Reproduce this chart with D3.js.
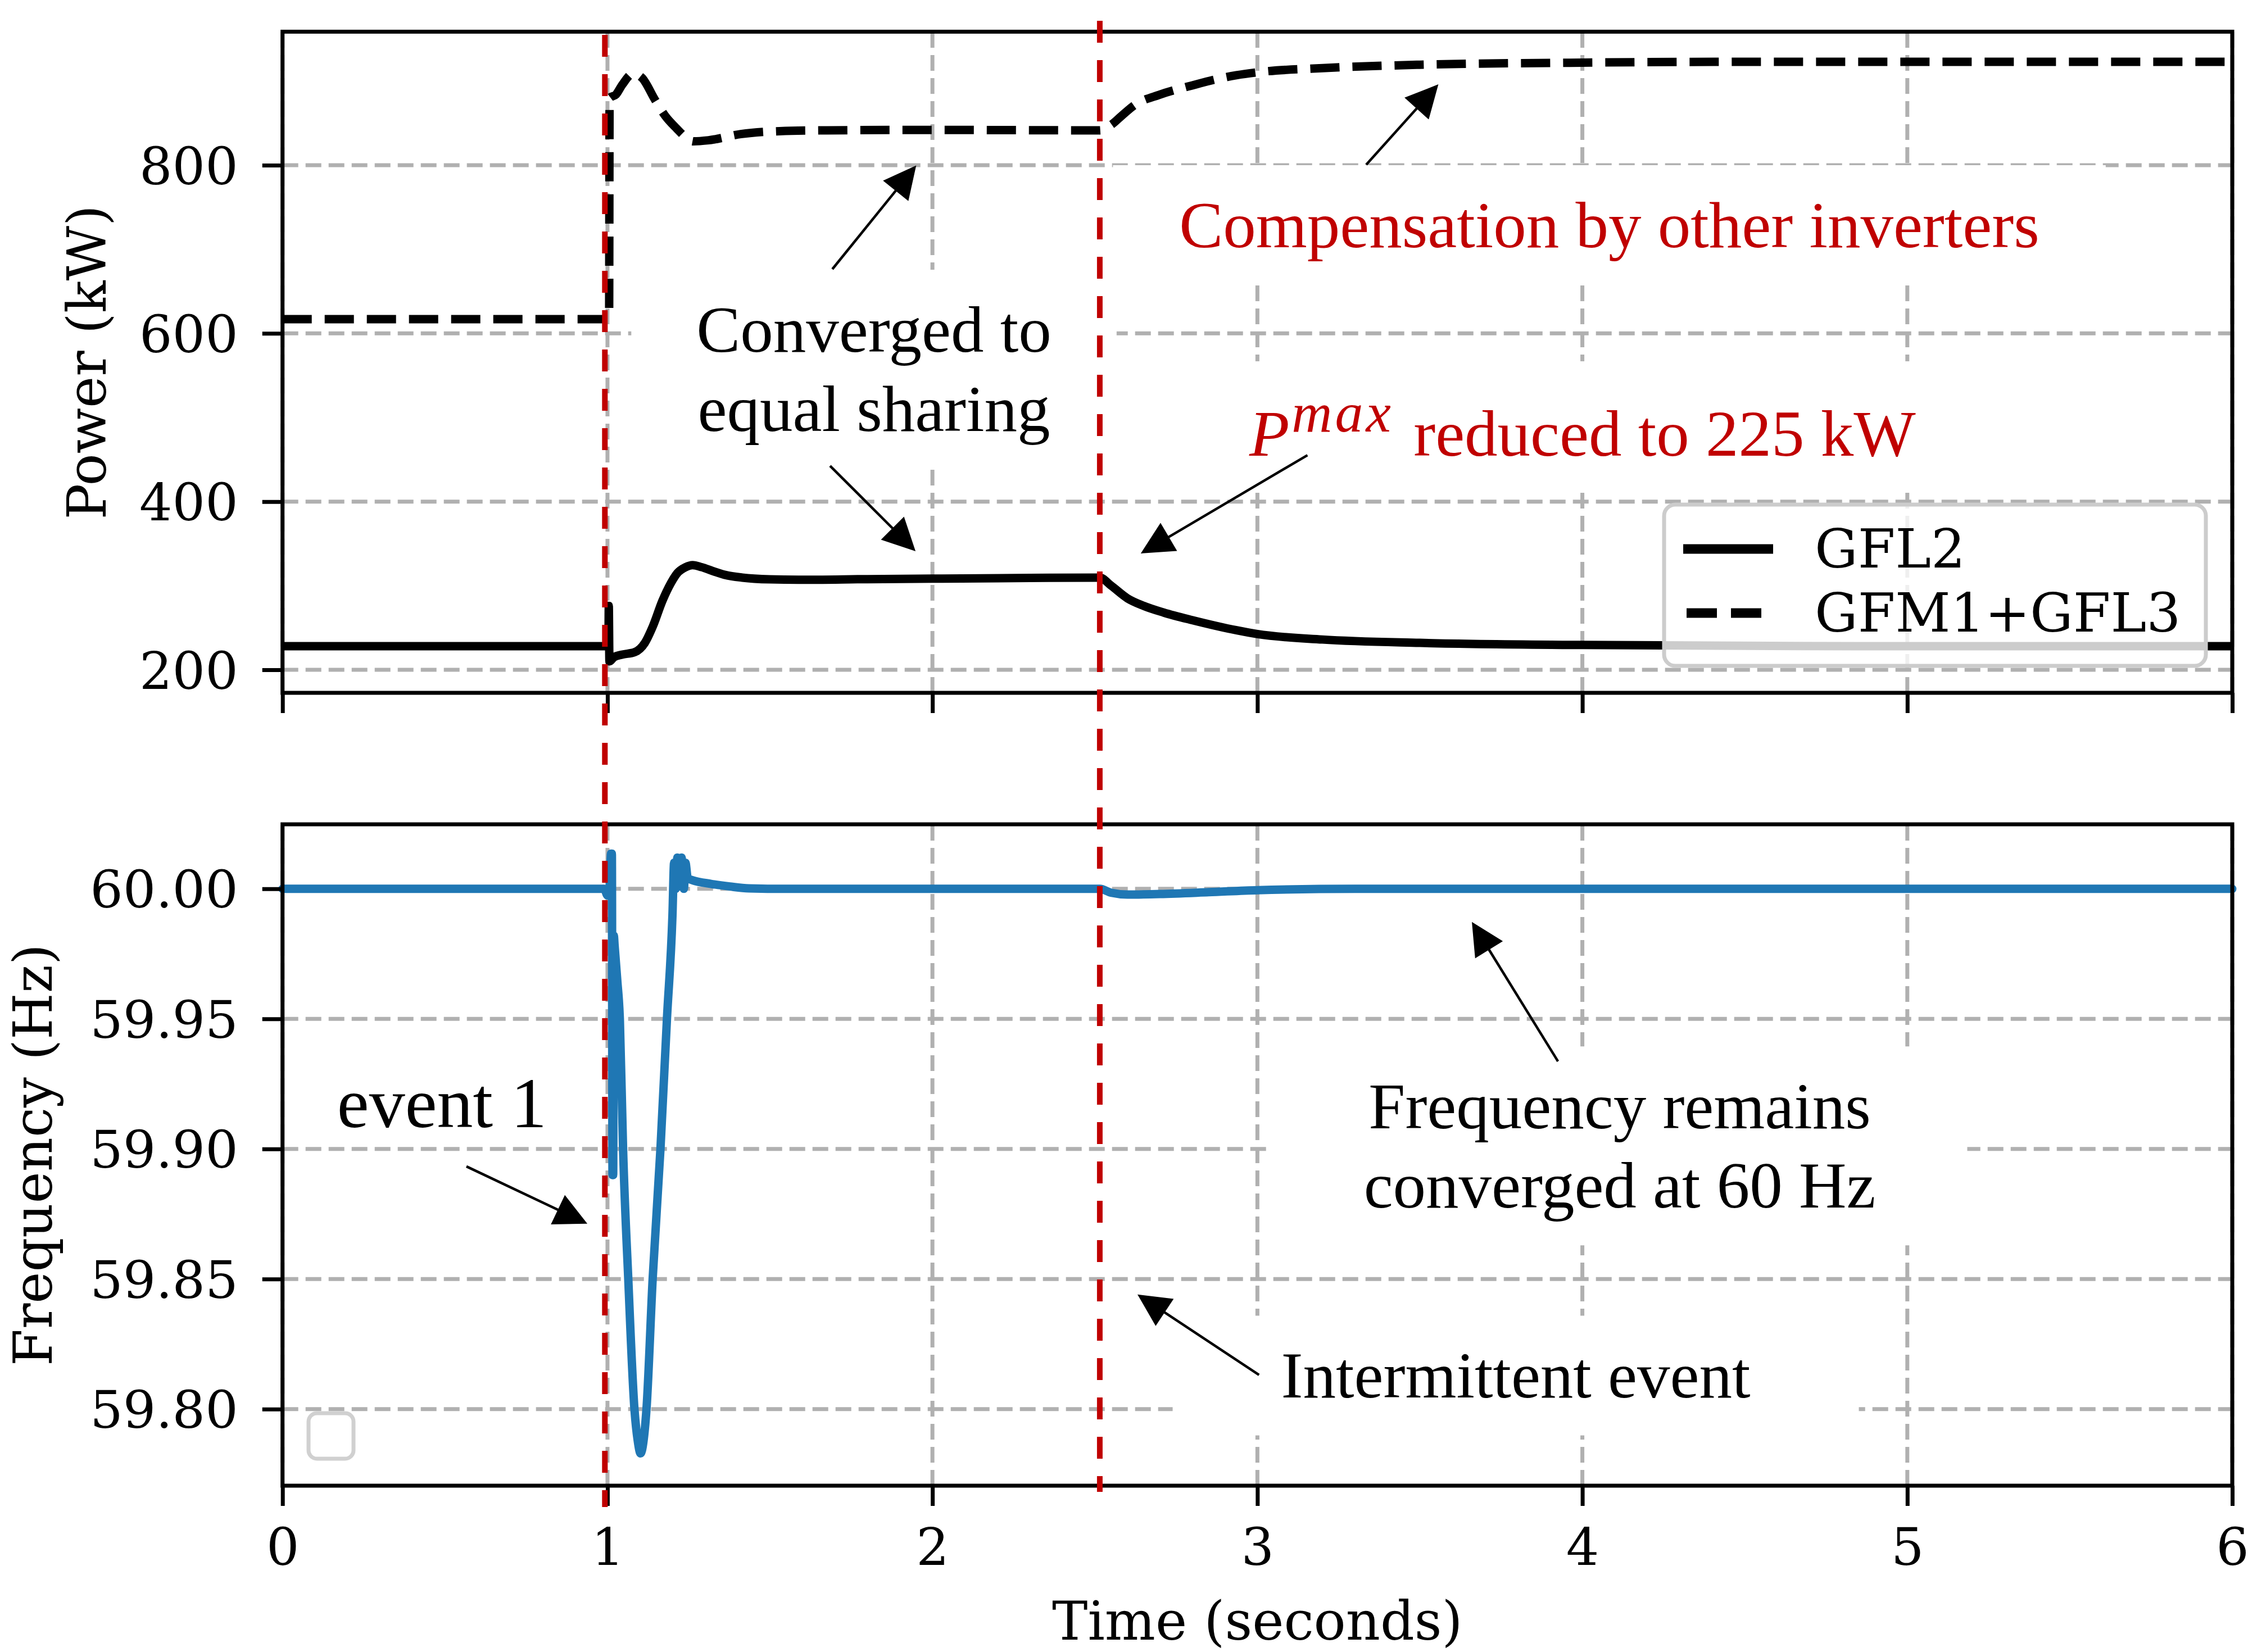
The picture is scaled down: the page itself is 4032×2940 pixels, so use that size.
<!DOCTYPE html>
<html>
<head>
<meta charset="utf-8">
<title>Power and frequency</title>
<script src="https://cdn.jsdelivr.net/npm/d3@7"></script>
<style>
    html,body{margin:0;background:#fff;}
    svg{display:block;}
</style>
</head>
<body>
<svg id="chart" width="4032" height="2940"></svg>
<script>
// ---- data ----
const timeTicks = [0, 1, 2, 3, 4, 5, 6];
const powerTicks = [200, 400, 600, 800];
const freqTicks = [59.80, 59.85, 59.90, 59.95, 60.00];
const eventTimes = [0.992, 2.515];

// GFL2 power, kW
const gfl2 = [
    [0, 228], [0.5, 228], [1.0, 228], [1.003, 228.5], [1.004, 276], [1.006, 210],
    [1.02, 215], [1.045, 218], [1.084, 221], [1.115, 232], [1.14, 252], [1.169, 282],
    [1.195, 303], [1.215, 315], [1.24, 322], [1.262, 324.5], [1.29, 322], [1.323, 317.5],
    [1.36, 313], [1.415, 309.6], [1.5, 307.5], [1.588, 307], [1.8, 307.8], [2.0, 308.4],
    [2.3, 309.2], [2.515, 309.6], [2.55, 300], [2.6, 285], [2.65, 276], [2.712, 268],
    [2.8, 259], [2.936, 247], [3.0, 242.5], [3.2, 236], [3.5, 232], [4.0, 229.5],
    [4.5, 228.5], [5.0, 228], [6.0, 228]
];

// GFM1+GFL3 power, kW
const gfmGfl3 = [
    [0, 617], [1.0, 617], [1.005, 618], [1.0065, 880], [1.026, 884], [1.046, 896],
    [1.079, 909], [1.106, 904], [1.146, 878], [1.179, 858], [1.212, 844], [1.245, 832],
    [1.264, 828.4], [1.311, 829.7], [1.41, 837], [1.529, 840.5], [1.675, 841.5], [2.0, 842],
    [2.515, 841.5], [2.55, 848], [2.583, 859], [2.62, 871], [2.7, 884], [2.8, 895],
    [2.87, 902], [2.935, 907], [3.0, 910.5], [3.2, 915.5], [3.5, 919.5], [4.0, 922],
    [4.5, 923], [5.0, 923], [6.0, 923]
];

// frequency, Hz
const frequency = [
    [0, 60.0], [0.99, 60.0], [1.0, 59.9975], [1.006, 59.999], [1.011, 60.0135],
    [1.0135, 60.0135], [1.0155, 59.89], [1.0175, 59.89], [1.0195, 59.982], [1.022, 59.978],
    [1.03, 59.965], [1.038, 59.95], [1.048, 59.90], [1.064, 59.85], [1.083, 59.80],
    [1.093, 59.788], [1.102, 59.783], [1.110, 59.787], [1.120, 59.80], [1.139, 59.85],
    [1.163, 59.90], [1.183, 59.95], [1.200, 59.99], [1.205, 60.010], [1.210, 60.000],
    [1.215, 60.012], [1.222, 60.001], [1.228, 60.012], [1.235, 60.0], [1.240, 60.010],
    [1.247, 60.004], [1.262, 60.0033], [1.319, 60.0019], [1.377, 60.0009], [1.435, 60.0002],
    [1.55, 60.0], [2.515, 60.0], [2.55, 59.9985], [2.6, 59.9978], [2.7, 59.998],
    [2.85, 59.9987], [3.0, 59.9995], [3.3, 60.0], [6.0, 60.0]
];

const legendItems = [
    {label: "GFL2", dash: null},
    {label: "GFM1+GFL3", dash: "54 25"}
];

// annotation text, text anchor and arrows [tailT, tailV, tipT, tipV] in data units
const annotations = [
    {panel: "power", lines: ["Converged to", "equal sharing"], t: 1.820, v: 578.2, anchor: "middle",
     red: false, padX: 116, arrows: [[1.692, 676.4, 1.950, 799.7], [1.685, 442.5, 1.948, 341.0]]},
    {panel: "power", lines: ["Compensation by other inverters"], t: 4.083, v: 702.5, anchor: "middle",
     red: true, padX: 118, arrows: [[3.335, 800.7, 3.557, 896.2]]},
    {panel: "freq", lines: ["event 1"], t: 0.168, v: 59.9084, anchor: "start", big: true,
     red: false, padX: null, arrows: [[0.566, 59.8933, 0.938, 59.8713]]},
    {panel: "freq", lines: ["Frequency remains", "converged at 60 Hz"], t: 4.115, v: 59.9079, anchor: "middle",
     red: false, padX: 163, arrows: [[3.925, 59.9337, 3.660, 59.98726]]},
    {panel: "freq", lines: ["Intermittent event"], t: 3.795, v: 59.8044, anchor: "middle",
     red: false, padX: 193, arrows: [[3.005, 59.8132, 2.631, 59.8441]]}
];
const pmaxNote = {t: 2.975, v: 454.6, arrow: [3.154, 455.2, 2.641, 338.3]};

// ---- layout ----
const RED = "#c00000";
const SERIF = "'DejaVu Serif', serif";
const TIMES = "'Liberation Serif', 'Times New Roman', serif";
const svg = d3.select("#chart");

const x = d3.scaleLinear().domain([0, 6]).range([502.7, 3972]);
const yP = d3.scaleLinear().domain([172.6, 958.8]).range([1233, 56.4]);
const yF = d3.scaleLinear().domain([59.7706, 60.0248]).range([2644, 1467]);

const panels = [
    {name: "power", y: yP, ticks: powerTicks, fmt: d3.format("d"), labelText: "Power (kW)", labelX: 188},
    {name: "freq", y: yF, ticks: freqTicks, fmt: d3.format(".2f"), labelText: "Frequency (Hz)", labelX: 92}
];

// grid
panels.forEach(p => {
    const [b, t] = p.y.range();
    const g = svg.append("g")
        .attr("stroke", "#b0b0b0")
        .attr("stroke-width", 7)
        .attr("stroke-dasharray", "28 13")
        .attr("fill", "none");
    g.selectAll("line.h").data(p.ticks).join("line").attr("class", "h")
        .attr("x1", x(0)).attr("x2", x(6))
        .attr("y1", d => p.y(d)).attr("y2", d => p.y(d));
    g.selectAll("line.v").data(timeTicks).join("line").attr("class", "v")
        .attr("x1", d => x(d)).attr("x2", d => x(d))
        .attr("y1", b).attr("y2", t);
});

// data lines
const lineP = d3.line().x(d => x(d[0])).y(d => yP(d[1])).curve(d3.curveMonotoneX);
const lineF = d3.line().x(d => x(d[0])).y(d => yF(d[1])).curve(d3.curveMonotoneX);

svg.append("path").attr("d", lineP(gfl2))
    .attr("fill", "none").attr("stroke", "#000").attr("stroke-width", 15)
    .attr("stroke-linejoin", "round");
svg.append("path").attr("d", lineP(gfmGfl3))
    .attr("fill", "none").attr("stroke", "#000").attr("stroke-width", 15)
    .attr("stroke-dasharray", "52 23").attr("stroke-linejoin", "round");
svg.append("path").attr("d", lineF(frequency))
    .attr("fill", "none").attr("stroke", "#1f77b4").attr("stroke-width", 15)
    .attr("stroke-linejoin", "round").attr("stroke-linecap", "round");

// legend (top panel)
const lg = svg.append("g");
lg.append("rect")
    .attr("x", 2961).attr("y", 898).attr("width", 964).attr("height", 287).attr("rx", 20)
    .attr("fill", "#fff").attr("fill-opacity", 0.8)
    .attr("stroke", "#cccccc").attr("stroke-width", 7);
legendItems.forEach((d, i) => {
    const yy = 977 + i * 114;
    lg.append("line")
        .attr("x1", d.dash ? 3001 : 2995).attr("x2", d.dash ? 3134 : 3155)
        .attr("y1", yy).attr("y2", yy)
        .attr("stroke", "#000").attr("stroke-width", 17)
        .attr("stroke-dasharray", d.dash);
    lg.append("text")
        .attr("x", 3229).attr("y", yy + 33)
        .attr("font-family", SERIF).attr("font-size", 96)
        .text(d.label);
});

// empty legend left in the lower panel
svg.append("rect")
    .attr("x", 549).attr("y", 2515).attr("width", 80).attr("height", 81).attr("rx", 15)
    .attr("fill", "#fff").attr("fill-opacity", 0.8)
    .attr("stroke", "#d0d0d0").attr("stroke-width", 7);

// axes, ticks, frames
panels.forEach((p, idx) => {
    const [b, t] = p.y.range();
    const ya = svg.append("g").attr("transform", `translate(${x(0)},0)`)
        .call(d3.axisLeft(p.y).tickValues(p.ticks).tickSize(36).tickPadding(43).tickFormat(p.fmt));
    const xa = svg.append("g").attr("transform", `translate(0,${b})`)
        .call(d3.axisBottom(x).tickValues(timeTicks).tickSize(36)
            .tickFormat(idx === 1 ? d3.format("d") : () => ""));
    [ya, xa].forEach(a => {
        a.select(".domain").remove();
        a.selectAll(".tick line").attr("stroke", "#000").attr("stroke-width", 7);
        a.selectAll(".tick text").attr("font-family", SERIF).attr("font-size", 92).attr("fill", "#000");
    });
    ya.selectAll(".tick text").attr("dy", "0.36em");
    xa.selectAll(".tick text").attr("y", 141).attr("dy", 0);

    svg.append("rect")
        .attr("x", x(0)).attr("y", t).attr("width", x(6) - x(0)).attr("height", b - t)
        .attr("fill", "none").attr("stroke", "#000").attr("stroke-width", 7);

    svg.append("text")
        .attr("transform", `translate(${p.labelX},${(b + t) / 2}) rotate(-90)`)
        .attr("text-anchor", "middle")
        .attr("font-family", SERIF).attr("font-size", 95)
        .text(p.labelText);
});

svg.append("text")
    .attr("x", (x(0) + x(6)) / 2).attr("y", 2918)
    .attr("text-anchor", "middle")
    .attr("font-family", SERIF).attr("font-size", 95)
    .text("Time (seconds)");

// annotations
function arrow(g, x1, y1, x2, y2) {
    const dx = x2 - x1, dy = y2 - y1, L = Math.hypot(dx, dy);
    const ux = dx / L, uy = dy / L;
    const bx = x2 - ux * 58, by = y2 - uy * 58;
    g.append("line")
        .attr("x1", x1).attr("y1", y1).attr("x2", bx + ux * 6).attr("y2", by + uy * 6)
        .attr("stroke", "#000").attr("stroke-width", 4.5);
    g.append("path")
        .attr("d", `M${x2},${y2}L${bx - uy * 29},${by + ux * 29}L${bx + uy * 29},${by - ux * 29}Z`)
        .attr("fill", "#000");
}

function addBox(g, textSel, padX, padY) {
    const bb = textSel.node().getBBox();
    g.insert("rect", "text")
        .attr("x", bb.x - padX).attr("y", bb.y - padY)
        .attr("width", bb.width + 2 * padX).attr("height", bb.height + 2 * padY)
        .attr("fill", "#fff");
}

annotations.forEach(a => {
    const ys = a.panel === "power" ? yP : yF;
    const g = svg.append("g");
    const txt = g.append("text")
        .attr("font-family", TIMES)
        .attr("font-size", a.big ? 128 : 117)
        .attr("fill", a.red ? RED : "#000")
        .attr("text-anchor", a.anchor);
    a.lines.forEach((s, i) => {
        txt.append("tspan").attr("x", x(a.t)).attr("y", ys(a.v) + i * 141).text(s);
    });
    if (a.padX != null) addBox(g, txt, a.padX, 42);
    a.arrows.forEach(r => arrow(g, x(r[0]), ys(r[1]), x(r[2]), ys(r[3])));
});

// P^max note
{
    const g = svg.append("g");
    const base = yP(pmaxNote.v);
    const txt = g.append("text")
        .attr("x", x(pmaxNote.t)).attr("y", base)
        .attr("font-family", TIMES).attr("font-size", 117).attr("fill", RED);
    txt.append("tspan").attr("font-style", "italic").text("P");
    txt.append("tspan").attr("font-style", "italic").attr("font-size", 100)
        .attr("dx", 4).attr("dy", -43).attr("letter-spacing", 5).text("max");
    txt.append("tspan").attr("dx", 6).attr("dy", 43).text(" reduced to 225 kW");
    addBox(g, txt, 116, 36);
    const r = pmaxNote.arrow;
    arrow(g, x(r[0]), yP(r[1]), x(r[2]), yP(r[3]));
}

// event markers spanning both panels
const eventSpan = [[62, 2682], [37, 2655]];
svg.append("g").selectAll("line").data(eventTimes).join("line")
    .attr("x1", d => x(d)).attr("x2", d => x(d))
    .attr("y1", (d, i) => eventSpan[i][0]).attr("y2", (d, i) => eventSpan[i][1])
    .attr("stroke", RED).attr("stroke-width", 10)
    .attr("stroke-dasharray", "39 31");
</script>
</body>
</html>
